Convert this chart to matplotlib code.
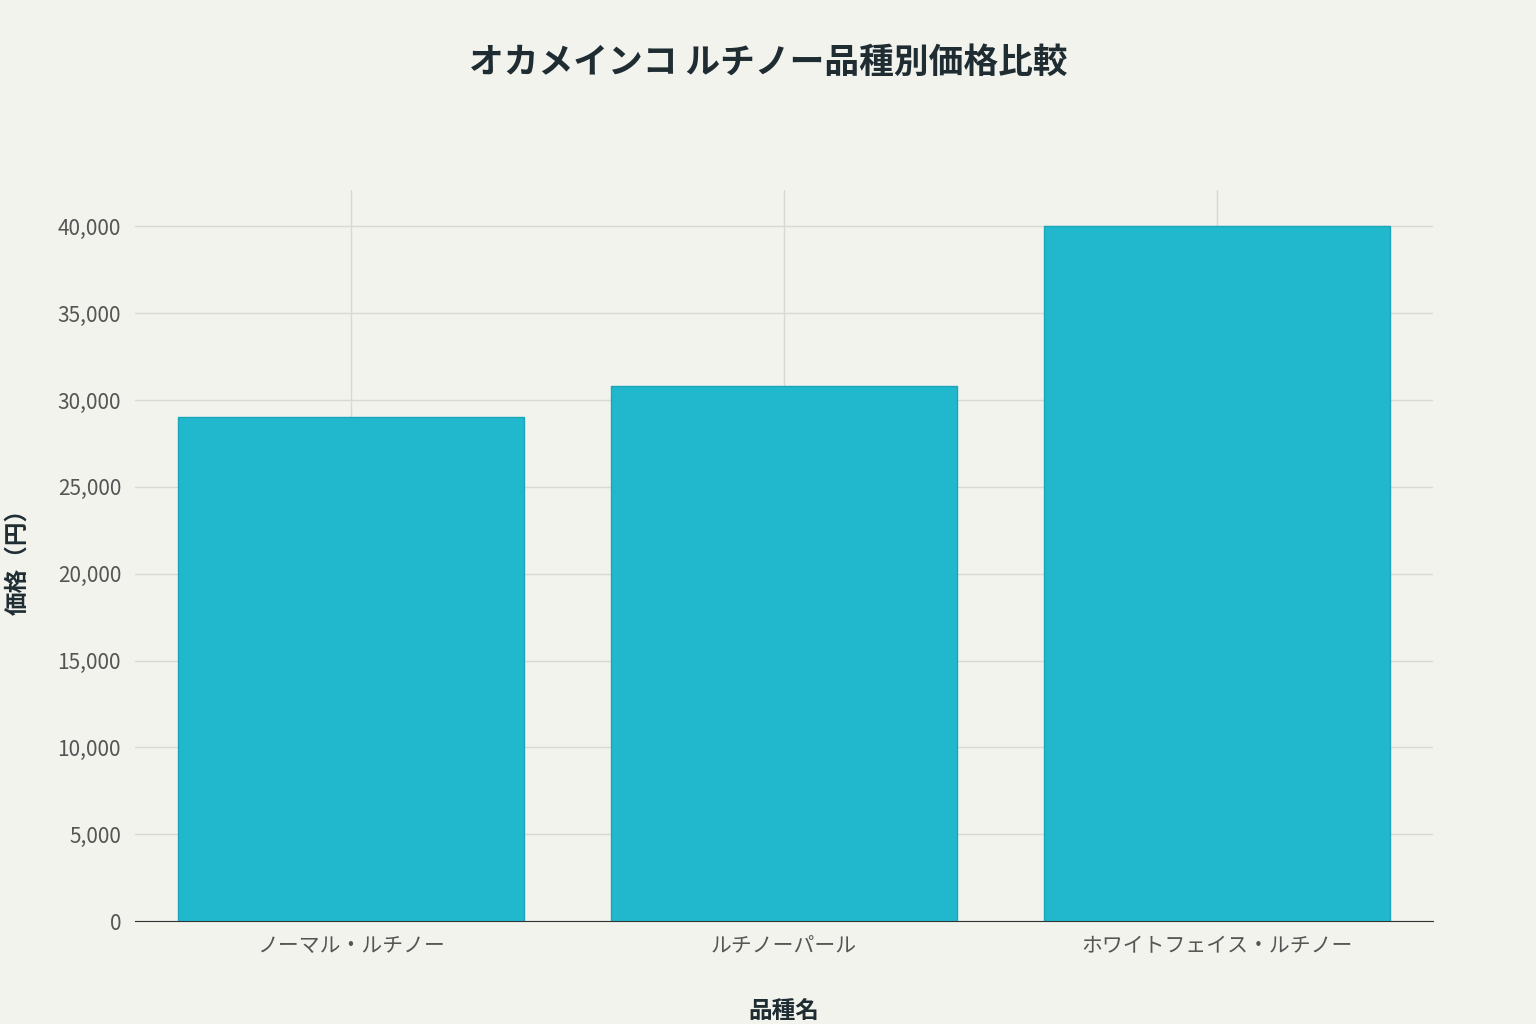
import matplotlib
matplotlib.use("Agg")
import matplotlib.pyplot as plt
from matplotlib.ticker import FuncFormatter

plt.rcParams['font.family'] = ['Noto Sans CJK JP', 'DejaVu Sans']

categories = ["ノーマル・ルチノー", "ルチノーパール", "ホワイトフェイス・ルチノー"]
prices = [29000, 30800, 40000]

bg = "#F3F3EE"
fig = plt.figure(figsize=(15.36, 10.24), dpi=100, facecolor=bg)
ax = fig.add_axes([135/1536, 1-921/1024, (1433-135)/1536, (921-190)/1024], facecolor=bg)
x = range(len(categories))
ax.bar(x, prices, width=0.8, color="#21B8CD", edgecolor="#1BA5B8", linewidth=1, zorder=3)
ax.set_xlim(-0.5, 2.5)
ax.set_ylim(0, 42100)
ax.set_yticks(range(0, 40001, 5000))
ax.yaxis.set_major_formatter(FuncFormatter(lambda v, p: f"{int(v):,}"))
ax.set_xticks(list(x))
ax.set_xticklabels(categories)
ax.grid(True, color="#D8D8D4", linewidth=1, zorder=0)
for s in ["top", "right", "left"]:
    ax.spines[s].set_visible(False)
ax.spines["bottom"].set_color("#333333")
ax.tick_params(axis="both", length=0, labelsize=15, colors="#555555", pad=10)
ax.set_xlabel("品種名", fontsize=17, fontweight="bold", color="#1F2D33", labelpad=30)
ax.set_ylabel("価格（円）", fontsize=17, fontweight="bold", color="#1F2D33", labelpad=20)
fig.text(0.5, 1-62/1024, "オカメインコ ルチノー品種別価格比較", ha="center", va="center",
         fontsize=25, fontweight="bold", color="#1F2D33")
fig.savefig("out.png", dpi=100, facecolor=bg)
